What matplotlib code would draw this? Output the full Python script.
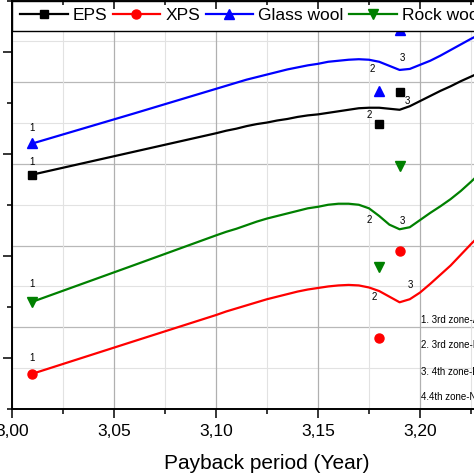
import matplotlib
matplotlib.use("Agg")
import matplotlib.pyplot as plt
from matplotlib.lines import Line2D
from matplotlib.ticker import MultipleLocator, FuncFormatter

plt.rcParams['font.family'] = ['Liberation Sans', 'DejaVu Sans']

# smoothed curves
x_line = [3.01, 3.06, 3.10, 3.105, 3.11, 3.115, 3.12, 3.125, 3.13, 3.135, 3.14, 3.145,
          3.15, 3.155, 3.16, 3.165, 3.17, 3.175, 3.18, 3.185, 3.19, 3.195, 3.20, 3.205,
          3.21, 3.215, 3.22, 3.225, 3.23]
eps_line = [3.59, 4.04, 4.40, 4.45, 4.49, 4.54, 4.58, 4.61, 4.65, 4.68, 4.72, 4.75,
            4.77, 4.80, 4.83, 4.86, 4.89, 4.90, 4.90, 4.88, 4.86, 4.93, 5.03, 5.13,
            5.23, 5.32, 5.42, 5.51, 5.60]
xps_line = [-0.31, 0.33, 0.84, 0.91, 0.97, 1.03, 1.09, 1.15, 1.20, 1.25, 1.30, 1.34,
            1.37, 1.40, 1.42, 1.43, 1.42, 1.38, 1.31, 1.20, 1.09, 1.15, 1.28, 1.45,
            1.63, 1.81, 2.02, 2.23, 2.43]
glass_line = [4.20, 4.79, 5.27, 5.33, 5.39, 5.45, 5.50, 5.55, 5.60, 5.65, 5.69, 5.73,
              5.76, 5.80, 5.82, 5.84, 5.85, 5.84, 5.80, 5.72, 5.64, 5.66, 5.74, 5.82,
              5.92, 6.03, 6.14, 6.25, 6.35]
rock_line = [1.10, 1.82, 2.40, 2.47, 2.53, 2.60, 2.67, 2.73, 2.78, 2.83, 2.88, 2.93,
             2.96, 3.00, 3.02, 3.02, 3.00, 2.93, 2.78, 2.61, 2.52, 2.56, 2.70, 2.84,
             2.97, 3.11, 3.27, 3.45, 3.64]

# scatter points
x_pts = [3.01, 3.18, 3.19]
eps_pts = [3.59, 4.59, 5.20]
xps_pts = [-0.31, 0.39, 2.10]
glass_pts = [4.20, 5.22, 6.43]
rock_pts = [1.10, 1.78, 3.76]

point_names = ["1", "2", "3"]
eps_lab = [(3.0098, 3.84), (3.175, 4.75), (3.1936, 5.04)]
xps_lab = [(3.0098, 0.00), (3.1775, 1.20), (3.1951, 1.43)]
glass_lab = [(3.0098, 4.51), (3.1765, 5.65), (3.1912, 5.88)]
rock_lab = [(3.0098, 1.45), (3.175, 2.71), (3.1912, 2.69)]

notes = ["1. 3rd zone-Ankara", "2. 3rd zone-Isparta", "3. 4th zone-Erzurum", "4.4th zone-Nevşehir"]
notes_y = [0.745, 0.255, -0.275, -0.765]

series = [
    ("EPS", "black", "s", 6, eps_line, eps_pts, eps_lab),
    ("XPS", "#ff0000", "o", 6.5, xps_line, xps_pts, xps_lab),
    ("Glass wool", "#0000ff", "^", 7, glass_line, glass_pts, glass_lab),
    ("Rock wool", "#008000", "v", 7, rock_line, rock_pts, rock_lab),
]

fig = plt.figure(figsize=(4.74, 4.74), dpi=100)
ax = fig.add_axes([12 / 474, 65 / 474, 510 / 474, 408.5 / 474])

# separate axes only for the horizontal grid (different spacing from the left ticks)
ax_g = ax.twinx()
ax_g.set_zorder(ax.get_zorder() - 1)
ax.patch.set_visible(False)
ax_g.set_ylim(0, 10)
ax_g.yaxis.set_major_locator(MultipleLocator(2))
ax_g.yaxis.set_minor_locator(MultipleLocator(1))
ax_g.grid(which='major', axis='y', color='#b8b8b8', lw=0.9)
ax_g.grid(which='minor', axis='y', color='#e2e2e2', lw=0.8)
ax_g.tick_params(which='both', right=False, labelright=False)
for s in ax_g.spines.values():
    s.set_visible(False)

ax.set_xlim(3.00, 3.25)
ax.set_ylim(-1, 7)
ax.xaxis.set_major_locator(MultipleLocator(0.05))
ax.xaxis.set_minor_locator(MultipleLocator(0.025))
ax.yaxis.set_major_locator(MultipleLocator(2))
ax.yaxis.set_minor_locator(MultipleLocator(1))
ax.xaxis.set_major_formatter(FuncFormatter(lambda v, p: f"{v:.2f}".replace(".", ",")))
ax.set_axisbelow(True)
ax.grid(which='major', axis='x', color='#b0b0b0', lw=0.9)
ax.grid(which='minor', axis='x', color='#e2e2e2', lw=0.8)

ax.tick_params(which='both', direction='out', width=1.1, labelsize=12.5, pad=4)
ax.tick_params(which='major', length=6.5)
ax.tick_params(which='minor', length=3.6)
ax.tick_params(axis='y', labelleft=False)
for s in ax.spines.values():
    s.set_linewidth(1.4)

top = ax.secondary_xaxis('top')
top.xaxis.set_major_locator(MultipleLocator(0.05))
top.xaxis.set_minor_locator(MultipleLocator(0.025))
top.tick_params(which='both', direction='in', width=1.1, labeltop=False)
top.tick_params(which='major', length=6.5)
top.tick_params(which='minor', length=3.6)
top.spines['top'].set_linewidth(1.4)
top.set_zorder(3)

handles = []
for name, color, marker, ms, yl, yp, lab in series:
    ax.plot(x_line, yl, color=color, lw=1.6, solid_joinstyle='round', zorder=2)
    ax.plot(x_pts, yp, ls='none', marker=marker, ms=ms, color=color, zorder=2)
    for t, (lx, ly) in zip(point_names, lab):
        ax.text(lx, ly, t, fontsize=7, ha='center', va='center', zorder=2)
    handles.append(Line2D([], [], color=color, lw=1.6, marker=marker, ms=ms, label=name))

for t, ny in zip(notes, notes_y):
    ax.text(3.2005, ny, t, fontsize=7, ha='left', va='center')

leg = ax.legend(handles=handles, loc='upper left', bbox_to_anchor=(0, 1), ncol=4,
                fontsize=12.5, frameon=True, fancybox=False, edgecolor='black',
                framealpha=1, borderaxespad=0, borderpad=0.45, handlelength=2.75,
                handletextpad=0.3, columnspacing=0.3)
leg.get_frame().set_linewidth(1.0)
leg.set_zorder(2.2)

ax.set_xlabel("Payback period (Year)", fontsize=15, labelpad=11)

fig.savefig("out.png", dpi=100)
